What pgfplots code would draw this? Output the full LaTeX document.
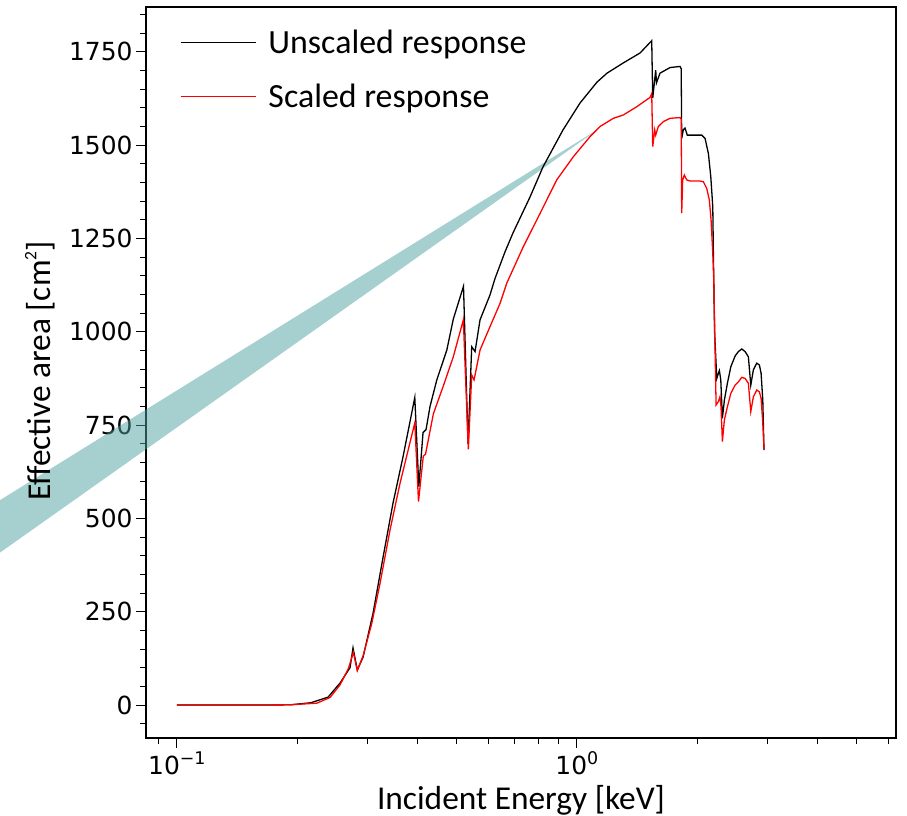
\documentclass[border=0pt]{standalone}
\usepackage{fontspec}
\setmainfont{Carlito}
\newfontfamily\dejavu{DejaVu Sans}
\usepackage{pgfplots}
\pgfplotsset{compat=1.18}
\definecolor{bandcol}{RGB}{75,161,159}
\newcommand\supr[1]{\raisebox{0.42em}{\fontsize{17.5}{20}\selectfont #1}}

\pgfplotstableread{
x y
0.1000 0
0.1524 0
0.1919 0.5
0.2162 6
0.2388 21
0.2559 59
0.2710 100
0.2757 153
0.2826 94
0.2921 128
0.3094 246
0.3278 396
0.3471 541
0.3677 665
0.3935 824
0.4027 585
0.4126 730
0.4198 738
0.4295 800
0.4466 871
0.4731 951
0.4911 1034
0.5208 1122
0.5346 700
0.5460 960
0.5566 947
0.5728 1032
0.6067 1099
0.6245 1143
0.6613 1214
0.6926 1265
0.7638 1361
0.8232 1442
0.9236 1541
1.0186 1613
1.1231 1669
1.1898 1693
1.3046 1720
1.4388 1747
1.5391 1780
1.5480 1626
1.5748 1701
1.5820 1667
1.6144 1693
1.7100 1708
1.8113 1711
1.8239 1705
1.8291 1518
1.8460 1541
1.8642 1546
1.8886 1527
2.0131 1527
2.0529 1527
2.0925 1518
2.1326 1478
2.1623 1416
2.1873 1335
2.1949 1211
2.2100 1000
2.2383 875
2.2591 889
2.2721 896
2.2905 871
2.3117 768
2.3385 817
2.3793 862
2.4263 906
2.4871 935
2.5348 947
2.5848 954
2.6344 947
2.6849 933
2.7222 857
2.7633 898
2.8180 916
2.8606 911
2.8888 889
2.9172 817
2.9376 683
}\unscaled

\pgfplotstableread{
x y
0.1000 0
0.1524 0
0.1919 0.5
0.2239 5
0.2415 20
0.2559 54
0.2685 98
0.2762 141
0.2826 92
0.2926 134
0.3072 219
0.3221 326
0.3412 469
0.3614 594
0.3935 756
0.4019 545
0.4132 667
0.4185 672
0.4378 780
0.4637 855
0.4911 933
0.5203 1032
0.5355 685
0.5460 884
0.5534 871
0.5728 951
0.6067 1014
0.6427 1076
0.6679 1130
0.7349 1228
0.8091 1317
0.8907 1407
0.9801 1469
1.0789 1523
1.1429 1550
1.2338 1572
1.3071 1581
1.4117 1603
1.5241 1628
1.5391 1638
1.5480 1496
1.5658 1541
1.5748 1527
1.5986 1550
1.6453 1563
1.7100 1572
1.8113 1574
1.8239 1570
1.8291 1318
1.8396 1407
1.8567 1420
1.8827 1407
1.9187 1404
2.0324 1404
2.0718 1402
2.1127 1384
2.1447 1353
2.1658 1300
2.1873 1210
2.1999 1139
2.2166 950
2.2295 804
2.2591 813
2.2803 826
2.2935 799
2.3117 706
2.3385 764
2.3793 799
2.4263 835
2.4871 857
2.5348 866
2.5848 878
2.6344 875
2.6849 862
2.7222 786
2.7633 826
2.8180 844
2.8606 839
2.8888 822
2.9172 755
2.9376 685
}\scaled

\pgfplotstableread{
x y
0.03221 515.8
1.1429 1546
0.03221 370.6
}\band

\begin{document}
\begin{tikzpicture}
\useasboundingbox (0bp,0bp) rectangle (907bp,816bp);
\begin{axis}[
  at={(146bp,78bp)}, anchor=south west,
  width=750bp, height=731bp, scale only axis,
  clip=false,
  xmode=log, xmin=0.08372, xmax=6.281,
  ymin=-88.4, ymax=1870.3,
  axis line style={line width=1.2bp},
  tick style={black, line width=1bp},
  tick align=outside, tick pos=left,
  major tick length=10bp, minor tick length=6bp,
  xtick={0.1,1},
  xticklabels={10\supr{−1}, 10\supr{0}},
  minor xtick={0.09,0.2,0.3,0.4,0.5,0.6,0.7,0.8,0.9,2,3,4,5,6},
  ytick={0,250,...,1750},
  minor ytick={-50,0,...,1850},
  /pgf/number format/assume math mode=true,
  /pgf/number format/set thousands separator={},
  yticklabel style={font=\dejavu\fontsize{25}{30}\selectfont},
  xticklabel style={font=\dejavu\fontsize{25}{30}\selectfont},
  xlabel={Incident Energy [keV]},
  ylabel={Effective area [cm\supr{2}]},
  label style={font=\fontsize{33.5}{40}\selectfont},
  xlabel style={at={(axis description cs:0.5,-0.0848)}, anchor=center},
  ylabel style={at={(axis description cs:-0.1413,0.502)}, anchor=center},
  legend style={draw=none, fill=none, at={(axis description cs:0.0413,0.974)}, anchor=north west,
    font=\fontsize{34}{40}\selectfont, row sep=25bp,
    /tikz/every odd column/.append style={column sep=10bp}},
  legend cell align=left,
  legend image code/.code={\draw[#1] (0bp,0bp) -- (75bp,0bp);},
]
\addplot[draw=none, fill=bandcol, fill opacity=0.5, forget plot] table {\band} -- cycle;
\addplot[black, line width=1.3bp] table {\unscaled};
\addlegendentry{Unscaled response}
\addplot[red, line width=1.3bp] table {\scaled};
\addlegendentry{Scaled response}
\end{axis}
\end{tikzpicture}
\end{document}
